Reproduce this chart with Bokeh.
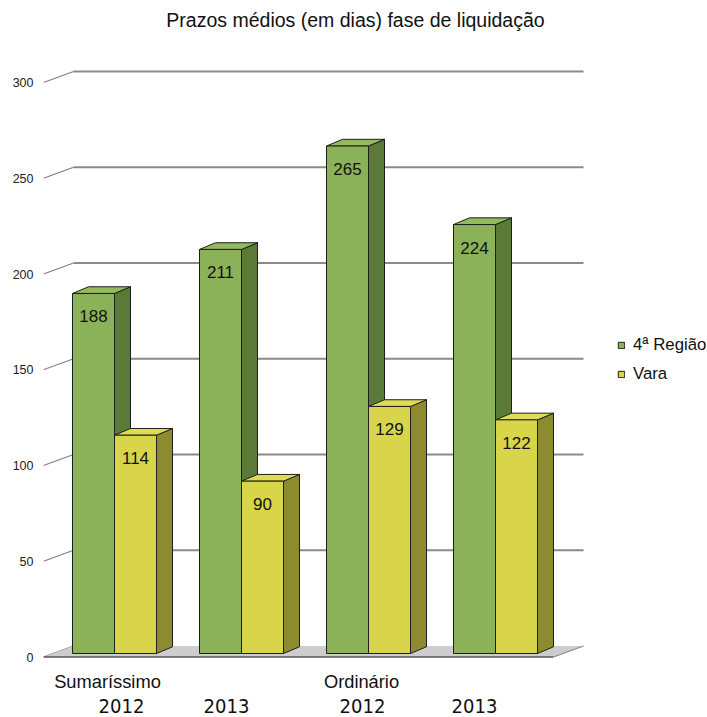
from bokeh.plotting import figure
from bokeh.models import Range1d, ColumnDataSource, FixedTicker, Legend, LegendItem
from bokeh.core.properties import value
from bokeh.embed import file_html
from bokeh.resources import INLINE

# ---- data -------------------------------------------------------------
title_text = "Prazos médios (em dias) fase de liquidação"
procedures = ["Sumaríssimo", "Ordinário"]
years = ["2012", "2013", "2012", "2013"]
series_names = ["4ª Região", "Vara"]
regiao = [188, 211, 265, 224]
vara = [114, 90, 129, 122]
y_ticks = [0, 50, 100, 150, 200, 250, 300]

# ---- layout (pixels) ---------------------------------------------------
W, H = 707, 717
LEFT = 43            # front edge of the value axis
PX_X = 127.0         # pixels per group slot
PX_Y = 1.915         # pixels per day
ZERO_PX = 656.5      # screen row of value 0 on the front plane
ORIGIN_PX = 114      # screen column of the first group's centre line

WALL_DX, WALL_DY = 30, 11          # depth of the back wall
BAR_W = 42                         # bar front width
BAR_DX, BAR_DY = 16, 6.7           # bar depth
BAR_LIFT = 3.5                     # bars stand slightly behind the front edge
FLOOR_RIGHT_PX = 553
YEAR_SHIFT_PX = [7, -15, -6, -21]
PROC_SHIFT_PX = -7


def dx(px):
    return px / PX_X


def dy(px):
    return px / PX_Y


def to_x(px):
    return (px - ORIGIN_PX) / PX_X


def to_y(px):
    return (ZERO_PX - px) / PX_Y


GREEN = dict(front="#8BB159", side="#5B7A37", top="#94BA60")
YELLOW = dict(front="#D8D54A", side="#8D8B2F", top="#E0DC52")
OUTLINE = "#1e1e1e"
FONT = "Liberation Sans"
NARROW = "DejaVu Sans Condensed"

x_start, x_end = to_x(LEFT), to_x(W)
y_start, y_end = to_y(H), to_y(0)

p = figure(width=W, height=H, output_backend="svg", toolbar_location=None,
           x_range=Range1d(x_start, x_end), y_range=Range1d(y_start, y_end),
           x_axis_location=None, y_axis_location="left",
           min_border_left=LEFT, min_border_right=0,
           min_border_top=0, min_border_bottom=0)
p.grid.visible = False
p.outline_line_color = None
p.background_fill_color = "white"
p.border_fill_color = "white"

# value axis labels (front plane)
ax = p.yaxis[0]
ax.ticker = FixedTicker(ticks=y_ticks)
ax.axis_line_color = None
ax.major_tick_line_color = None
ax.minor_tick_line_color = None
ax.major_tick_out = 0
ax.major_tick_in = 0
ax.major_label_standoff = 10
ax.major_label_text_font = FONT
ax.major_label_text_font_size = "12.5px"
ax.major_label_text_color = "#222222"

# ---- back wall grid and slanted ticks ---------------------------------
wall_left = x_start + dx(WALL_DX)
wall_right = to_x(FLOOR_RIGHT_PX) + dx(WALL_DX)
grid_vals = [t for t in y_ticks if t > 0]
p.segment(x0=[wall_left] * len(grid_vals), y0=[v + dy(WALL_DY) for v in grid_vals],
          x1=[wall_right] * len(grid_vals), y1=[v + dy(WALL_DY) for v in grid_vals],
          line_color="#8a8a8a", line_width=1.8)
p.segment(x0=[x_start] * len(y_ticks), y0=y_ticks,
          x1=[wall_left] * len(y_ticks), y1=[v + dy(WALL_DY) for v in y_ticks],
          line_color="#808080", line_width=1.2)

# ---- floor ------------------------------------------------------------
floor_r = to_x(FLOOR_RIGHT_PX)
p.patch([x_start, floor_r, floor_r + dx(WALL_DX), wall_left],
        [0, 0, dy(WALL_DY), dy(WALL_DY)],
        fill_color="#CDCDCD", line_color=None)
p.segment(x0=[x_start], y0=[0], x1=[floor_r], y1=[0], line_color="#555555", line_width=1.6)
p.segment(x0=[floor_r], y0=[0], x1=[floor_r + dx(WALL_DX)], y1=[dy(WALL_DY)],
          line_color="#8a8a8a", line_width=1.2)

# ---- 3-D bars ---------------------------------------------------------
base = dy(BAR_LIFT)
ddx, ddy = dx(BAR_DX), dy(BAR_DY)
bw = dx(BAR_W)


def draw_series(vals, offset, colors):
    lefts = [i + offset for i in range(len(vals))]
    rights = [l + bw for l in lefts]
    tops = [base + v for v in vals]
    side = ColumnDataSource(dict(
        xs=[[r, r + ddx, r + ddx, r] for r in rights],
        ys=[[base, base + ddy, t + ddy, t] for t in tops]))
    top = ColumnDataSource(dict(
        xs=[[l, r, r + ddx, l + ddx] for l, r in zip(lefts, rights)],
        ys=[[t, t, t + ddy, t + ddy] for t in tops]))
    p.patches("xs", "ys", source=side, fill_color=colors["side"],
              line_color=OUTLINE, line_width=1)
    p.patches("xs", "ys", source=top, fill_color=colors["top"],
              line_color=OUTLINE, line_width=1)
    front = p.quad(left=lefts, right=rights, bottom=[base] * len(vals), top=tops,
                   fill_color=colors["front"], line_color=OUTLINE, line_width=1)
    p.text(x=[(l + r) / 2 for l, r in zip(lefts, rights)],
           y=[t - dy(23) for t in tops], text=[str(v) for v in vals],
           text_align="center", text_baseline="middle",
           text_font=value(FONT), text_font_size="17px", text_color="#111111")
    return front


g_front = draw_series(regiao, -bw, GREEN)
y_front = draw_series(vara, 0.0, YELLOW)

# ---- category labels --------------------------------------------------
p.text(x=[2 * k + dx(PROC_SHIFT_PX) for k in range(len(procedures))],
       y=[to_y(681)] * len(procedures), text=procedures,
       text_align="center", text_baseline="middle",
       text_font=value(FONT), text_font_size="18.3px", text_color="#111111")
p.text(x=[i + dx(s) for i, s in enumerate(YEAR_SHIFT_PX)],
       y=[to_y(705)] * len(years), text=years,
       text_align="center", text_baseline="middle",
       text_font=value(NARROW), text_font_size="20px",
       text_color="#111111")

# ---- title ------------------------------------------------------------
p.text(x=[to_x(355)], y=[to_y(19)], text=[title_text],
       text_align="center", text_baseline="middle",
       text_font=value(FONT), text_font_size="19.5px", text_color="#111111")

# ---- legend -----------------------------------------------------------
legend = Legend(items=[LegendItem(label=series_names[0], renderers=[g_front]),
                       LegendItem(label=series_names[1], renderers=[y_front])],
                location=(617 - LEFT, H - 384),
                glyph_width=8, glyph_height=8, label_standoff=8, spacing=9,
                label_height=15, padding=0, margin=0,
                border_line_color=None, background_fill_alpha=0,
                label_text_font=FONT, label_text_font_size="16.8px",
                label_text_color="#111111")
p.add_layout(legend)

open("out.html", "w").write(file_html(p, INLINE))
